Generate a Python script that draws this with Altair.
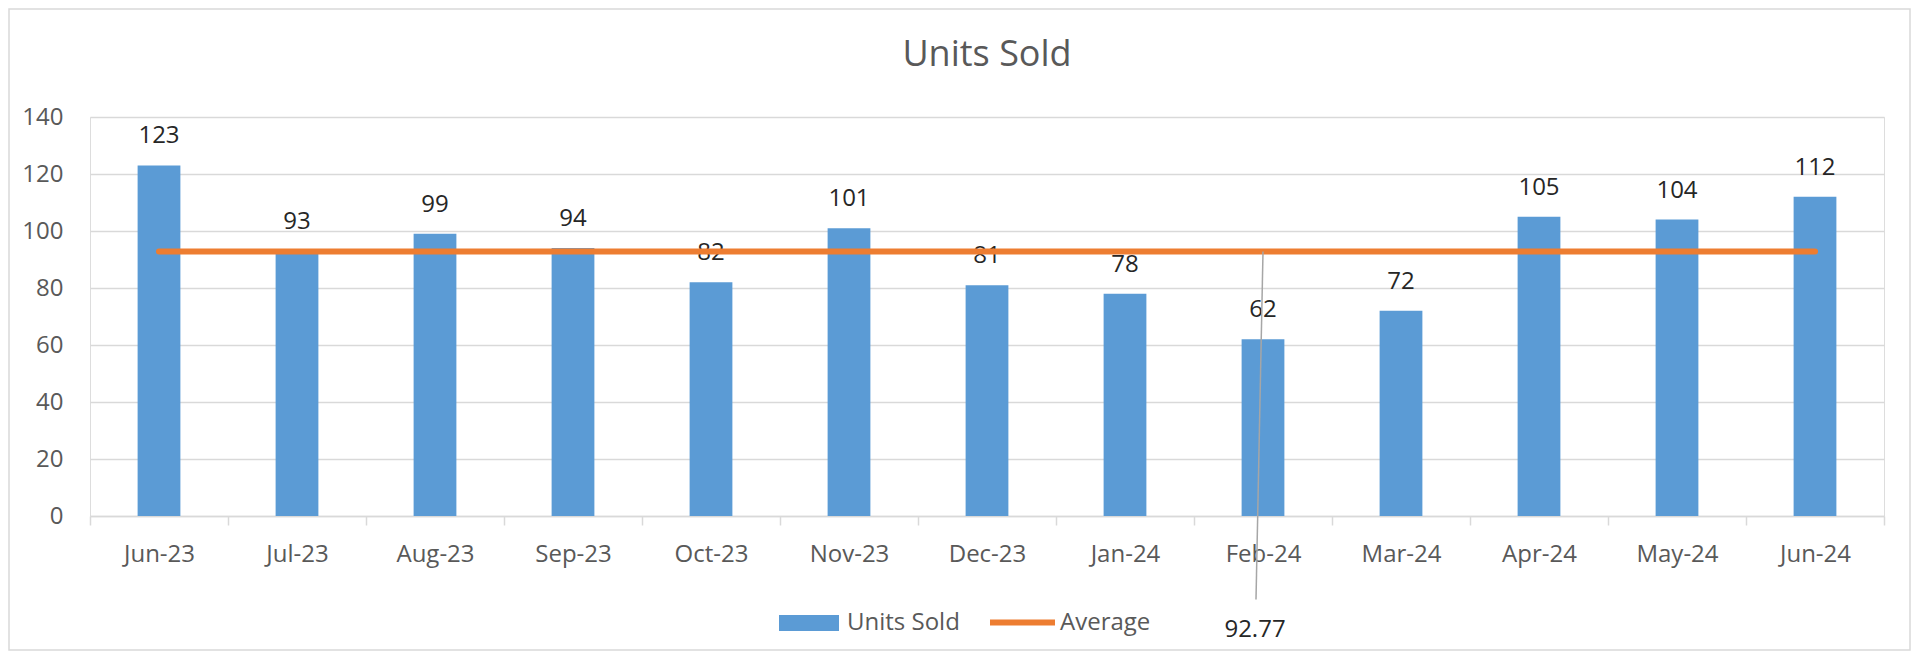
import altair as alt
import pandas as pd

# ---- data ----
months = ["Jun-23", "Jul-23", "Aug-23", "Sep-23", "Oct-23", "Nov-23", "Dec-23",
          "Jan-24", "Feb-24", "Mar-24", "Apr-24", "May-24", "Jun-24"]
units_sold = [123, 93, 99, 94, 82, 101, 81, 78, 62, 72, 105, 104, 112]
average_value = 92.77
average_label_month = "Feb-24"
bar_series = ["Units Sold"]
bar_colors = ["#5B9BD5"]
avg_series = ["Average"]
avg_colors = ["#ED7D31"]
y_ticks = [0, 20, 40, 60, 80, 100, 120, 140]
chart_title = "Units Sold"

bars_df = pd.DataFrame({"month": months, "value": units_sold, "series": bar_series[0]})
avg_df = pd.DataFrame({"month": months, "value": [average_value] * len(months), "series": avg_series[0]})
avg_lbl_df = avg_df[avg_df["month"] == average_label_month]
frame_df = pd.DataFrame({"a": [0]})

FONT = "Open Sans"
GRID = "#d9d9d9"
TXT = "#595959"
W, H = 1794, 399

x_enc = alt.X(
    "month:N", sort=months,
    scale=alt.Scale(paddingInner=0, paddingOuter=0),
    axis=alt.Axis(title=None, labelAngle=0, tickBand="extent", tickSize=9,
                  tickColor=GRID, tickWidth=1.5, domainColor=GRID, domainWidth=1.5,
                  labelFontSize=24, labelColor=TXT, labelFont=FONT, labelPadding=17,
                  labelBaseline="top", grid=False),
)
y_enc = alt.Y(
    "value:Q",
    scale=alt.Scale(domain=[0, 140], nice=False),
    axis=alt.Axis(title=None, values=y_ticks, ticks=False, tickSize=0, domain=False,
                  grid=True, gridColor=GRID, gridWidth=1.5,
                  labelFontSize=24, labelColor=TXT, labelFont=FONT, labelPadding=27),
)
bar_color = alt.Color(
    "series:N",
    scale=alt.Scale(domain=bar_series, range=bar_colors),
    legend=alt.Legend(
        title=None, orient="none", legendX=689, legendY=476, direction="horizontal",
        symbolType="M-1,-0.27L1,-0.27L1,0.27L-1,0.27Z", symbolSize=3600,
        symbolStrokeWidth=0, symbolOpacity=1, labelFontSize=24, labelColor=TXT,
        labelFont=FONT, labelOffset=8, padding=0,
    ),
)
avg_stroke = alt.Stroke(
    "series:N",
    scale=alt.Scale(domain=avg_series, range=avg_colors),
    legend=alt.Legend(
        title=None, orient="none", legendX=897, legendY=470, direction="horizontal",
        symbolType="stroke", symbolSize=4225, symbolStrokeWidth=6, symbolOpacity=1,
        labelFontSize=24, labelColor=TXT, labelFont=FONT, labelOffset=2, padding=0,
    ),
)

frame = alt.Chart(frame_df).mark_rect(filled=False, stroke=GRID, strokeWidth=1.5).encode(
    x=alt.value(-81), x2=alt.value(1820), y=alt.value(-108), y2=alt.value(533)
)

bars = alt.Chart(bars_df).mark_bar(width=alt.RelativeBandSize(0.31)).encode(
    x=x_enc, y=y_enc, color=bar_color
)

bar_labels = alt.Chart(bars_df).mark_text(
    dy=-22, baseline="alphabetic", fontSize=24, font=FONT, color="#262626"
).encode(x=x_enc, y=y_enc, text=alt.Text("value:Q"))

avg_line = alt.Chart(avg_df).mark_line(strokeWidth=6, strokeCap="round").encode(
    x=x_enc, y=y_enc, stroke=avg_stroke
)

leader = alt.Chart(avg_lbl_df).mark_rule(
    color="#a6a6a6", strokeWidth=1.5, x2Offset=-7, y2Offset=348
).encode(x=x_enc, y=y_enc, x2=alt.X2("month"), y2=alt.Y2("value"))

avg_label = alt.Chart(avg_lbl_df).mark_text(
    dx=-8, dy=385, baseline="alphabetic", fontSize=24, font=FONT, color="#262626"
).encode(x=x_enc, y=y_enc, text=alt.Text("value:Q", format=".2f"))

chart = alt.layer(frame, bars, bar_labels, avg_line, leader, avg_label).properties(
    width=W, height=H,
    title=alt.TitleParams(chart_title, fontSize=36, font=FONT, color=TXT,
                          fontWeight="normal", anchor="middle", baseline="alphabetic",
                          offset=-94),
    autosize=alt.AutoSizeParams(type="none"),
    padding={"left": 82, "top": 109, "right": 27, "bottom": 135},
).resolve_legend(color="independent", stroke="independent").configure_view(
    stroke=None
).configure(background="white")

chart.save("out.html", embed_options={"renderer": "svg", "actions": False})
